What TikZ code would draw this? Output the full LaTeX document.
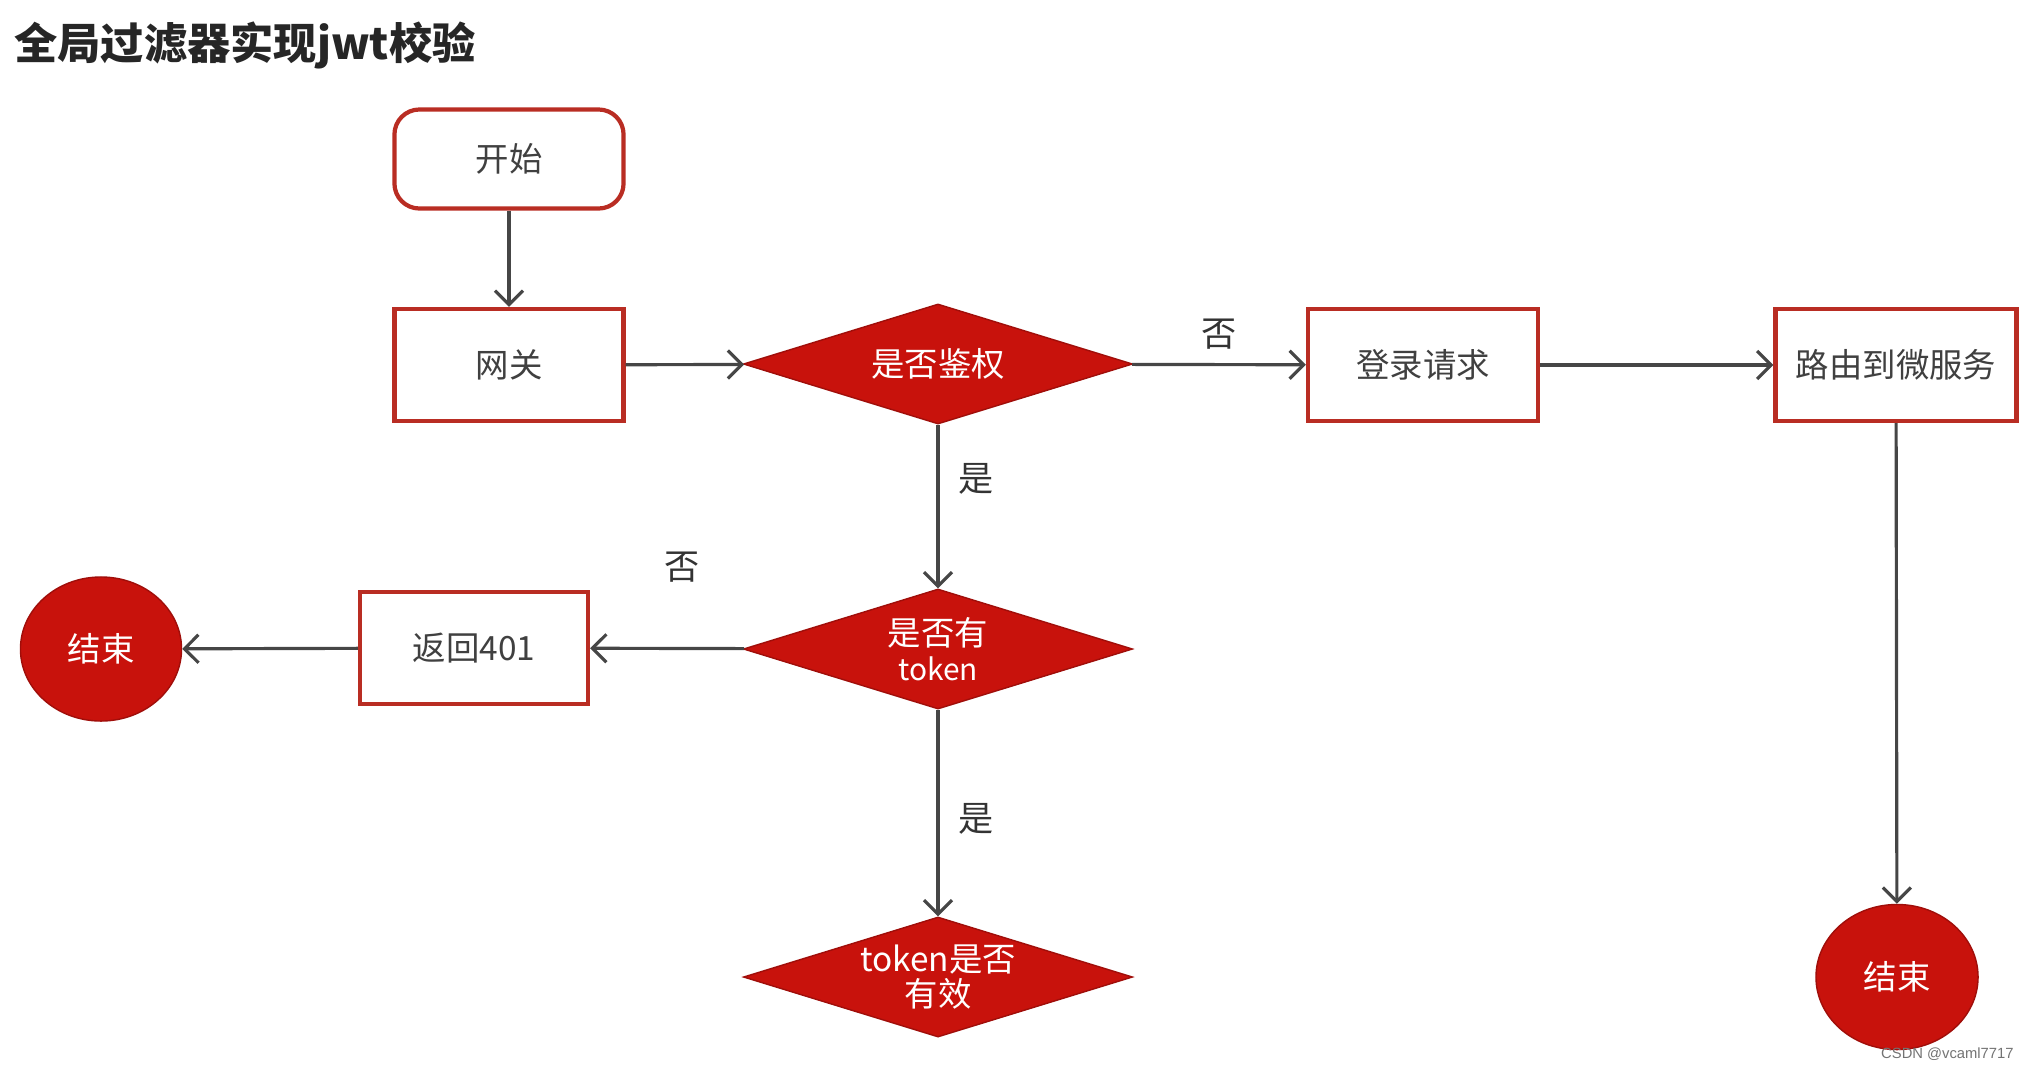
\documentclass[tikz,border=0pt]{standalone}
\usepackage{fontspec}
\setmainfont{Noto Sans CJK SC}
\newfontfamily\markfont{Liberation Sans}
\usetikzlibrary{shapes.geometric,arrows.meta}
\definecolor{flowred}{RGB}{200,18,12}
\definecolor{boxred}{RGB}{185,45,35}
\definecolor{linegray}{RGB}{70,70,70}
\tikzset{>={Straight Barb[length=1.4mm,width=2.8mm,line width=0.9pt]}}
\tikzset{
  procbox/.style={draw=boxred,line width=1.2pt,fill=white,text=black!75,
    minimum width=2.29cm,minimum height=1.12cm,inner sep=0pt,font=\fontsize{9.5}{11}\selectfont},
  choice/.style={diamond,aspect=3.27,fill=flowred,draw=flowred!80!black,text=white,
    minimum width=3.89cm,minimum height=1.2cm,inner sep=0pt,align=center,
    font=\fontsize{9.5}{10}\selectfont},
  finish/.style={ellipse,fill=flowred,draw=flowred!80!black,text=white,
    minimum width=1.61cm,minimum height=1.44cm,inner sep=0pt,font=\fontsize{9.5}{11}\selectfont},
  flow/.style={->,draw=linegray,line width=0.9pt},
  flowlabel/.style={text=black!80,font=\fontsize{10}{12}\selectfont}
}

\begin{document}
\begin{tikzpicture}[x=0.01cm,y=-0.01cm]
  \useasboundingbox (0,0) rectangle (2037,1069);

  % title
  \node[anchor=west,font=\bfseries\fontsize{12.3}{15}\selectfont,text=black!85] (title) at (2,45) {全局过滤器实现jwt校验};

  % top row
  \node[procbox,rounded corners=2.5mm,minimum height=0.99cm] (start) at (509,159) {开始};
  \node[procbox] (gateway) at (509,365) {网关};
  \node[choice] (auth) at (938,364) {是否鉴权};
  \node[procbox,minimum width=2.3cm] (login) at (1423,365) {登录请求};
  \node[procbox,minimum width=2.41cm] (route) at (1896,365) {路由到微服务};

  % middle and bottom
  \node[choice] (hastoken) at (938,649) {是否有\\{\fontsize{8.5}{9}\selectfont token}};
  \node[procbox,minimum width=2.28cm] (ret401) at (474,648) {返回401};
  \node[finish] (endleft) at (101,649) {结束};
  \node[choice] (valid) at (938,977) {token是否\\有效};
  \node[finish,minimum width=1.62cm,minimum height=1.45cm] (endright) at (1897,977) {结束};

  % connectors
  \draw[flow] (start) -- (gateway);
  \draw[flow] (gateway) -- (auth);
  \draw[flow] (auth) -- node[flowlabel,above=0.5pt] (lblno1) {否} (login);
  \draw[flow] (login) -- (route);
  \draw[flow] (route) -- (endright);
  \draw[flow] (auth) -- node[flowlabel,pos=0.33,right=2pt] (lblyes1) {是} (hastoken);
  \draw[flow] (hastoken) -- node[flowlabel,pos=0.4,above=15pt] (lblno2) {否} (ret401);
  \draw[flow] (ret401) -- (endleft);
  \draw[flow] (hastoken) -- node[flowlabel,pos=0.53,right=2pt] (lblyes2) {是} (valid);

  % watermark
  \node[anchor=east,text=black!55,font=\markfont\fontsize{4.2}{5}\selectfont] (mark) at (2026,1054) {CSDN @vcaml7717};
\end{tikzpicture}
\end{document}
